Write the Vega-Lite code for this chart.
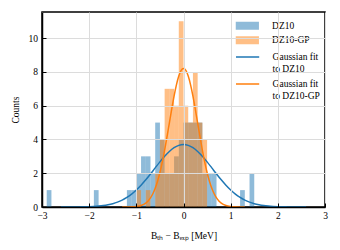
{
  "$schema": "https://vega.github.io/schema/vega-lite/v6.json",
  "width": 283,
  "height": 195,
  "autosize": {"type": "none"},
  "padding": {"left": 42, "top": 12, "right": 15, "bottom": 43},
  "background": "white",
  "config": {
    "font": "Liberation Serif",
    "view": {"stroke": "black", "strokeWidth": 1.5},
    "axis": {
      "labelFont": "Liberation Serif",
      "titleFont": "Liberation Serif",
      "labelFontSize": 9.5,
      "titleFontSize": 9.5,
      "titleFontWeight": "normal",
      "labelColor": "black",
      "titleColor": "black",
      "domainColor": "black",
      "domainWidth": 1.5,
      "tickColor": "black",
      "tickSize": -4,
      "tickWidth": 1,
      "gridColor": "#dcdcdc",
      "gridWidth": 1,
      "labelFlush": false
    },
    "legend": {
      "labelFont": "Liberation Serif",
      "labelFontSize": 9.5,
      "labelColor": "black",
      "padding": 0
    }
  },
  "datasets": {
    "hist": [
      {"series": "DZ10", "x": -2.9, "x2": -2.8, "y": 1},
      {"series": "DZ10", "x": -1.9, "x2": -1.8, "y": 1},
      {"series": "DZ10", "x": -1.2, "x2": -1.1, "y": 1},
      {"series": "DZ10", "x": -1.1, "x2": -1.0, "y": 1},
      {"series": "DZ10", "x": -1.0, "x2": -0.9, "y": 2},
      {"series": "DZ10", "x": -0.9, "x2": -0.8, "y": 3},
      {"series": "DZ10", "x": -0.8, "x2": -0.7, "y": 3},
      {"series": "DZ10", "x": -0.7, "x2": -0.6, "y": 2},
      {"series": "DZ10", "x": -0.6, "x2": -0.5, "y": 5},
      {"series": "DZ10", "x": -0.5, "x2": -0.4, "y": 4},
      {"series": "DZ10", "x": -0.4, "x2": -0.3, "y": 2},
      {"series": "DZ10", "x": -0.3, "x2": -0.2, "y": 2},
      {"series": "DZ10", "x": -0.2, "x2": -0.1, "y": 3},
      {"series": "DZ10", "x": -0.1, "x2": 0.0, "y": 4},
      {"series": "DZ10", "x": 0.0, "x2": 0.1, "y": 5},
      {"series": "DZ10", "x": 0.1, "x2": 0.2, "y": 5},
      {"series": "DZ10", "x": 0.2, "x2": 0.3, "y": 5},
      {"series": "DZ10", "x": 0.3, "x2": 0.4, "y": 5},
      {"series": "DZ10", "x": 0.4, "x2": 0.5, "y": 2},
      {"series": "DZ10", "x": 0.5, "x2": 0.6, "y": 2},
      {"series": "DZ10", "x": 0.6, "x2": 0.7, "y": 2},
      {"series": "DZ10", "x": 1.2, "x2": 1.3, "y": 1},
      {"series": "DZ10", "x": 1.4, "x2": 1.5, "y": 2},
      {"series": "DZ10-GP", "x": -1.0, "x2": -0.9, "y": 1},
      {"series": "DZ10-GP", "x": -0.8, "x2": -0.7, "y": 1},
      {"series": "DZ10-GP", "x": -0.6, "x2": -0.5, "y": 2},
      {"series": "DZ10-GP", "x": -0.5, "x2": -0.4, "y": 4},
      {"series": "DZ10-GP", "x": -0.4, "x2": -0.3, "y": 7},
      {"series": "DZ10-GP", "x": -0.3, "x2": -0.2, "y": 7},
      {"series": "DZ10-GP", "x": -0.2, "x2": -0.1, "y": 6},
      {"series": "DZ10-GP", "x": -0.1, "x2": 0.0, "y": 11},
      {"series": "DZ10-GP", "x": 0.0, "x2": 0.1, "y": 6},
      {"series": "DZ10-GP", "x": 0.1, "x2": 0.2, "y": 5},
      {"series": "DZ10-GP", "x": 0.2, "x2": 0.3, "y": 8},
      {"series": "DZ10-GP", "x": 0.3, "x2": 0.4, "y": 5},
      {"series": "DZ10-GP", "x": 0.4, "x2": 0.5, "y": 4}
    ],
    "fits": [
      {"fit": "Gaussian fit\nto DZ10", "x": -2.6, "y": 0.0003},
      {"fit": "Gaussian fit\nto DZ10", "x": -2.4, "y": 0.0016},
      {"fit": "Gaussian fit\nto DZ10", "x": -2.2, "y": 0.0068},
      {"fit": "Gaussian fit\nto DZ10", "x": -2.0, "y": 0.020},
      {"fit": "Gaussian fit\nto DZ10", "x": -1.9, "y": 0.034},
      {"fit": "Gaussian fit\nto DZ10", "x": -1.8, "y": 0.055},
      {"fit": "Gaussian fit\nto DZ10", "x": -1.7, "y": 0.086},
      {"fit": "Gaussian fit\nto DZ10", "x": -1.6, "y": 0.133},
      {"fit": "Gaussian fit\nto DZ10", "x": -1.5, "y": 0.198},
      {"fit": "Gaussian fit\nto DZ10", "x": -1.4, "y": 0.289},
      {"fit": "Gaussian fit\nto DZ10", "x": -1.3, "y": 0.411},
      {"fit": "Gaussian fit\nto DZ10", "x": -1.2, "y": 0.569},
      {"fit": "Gaussian fit\nto DZ10", "x": -1.1, "y": 0.767},
      {"fit": "Gaussian fit\nto DZ10", "x": -1.0, "y": 1.008},
      {"fit": "Gaussian fit\nto DZ10", "x": -0.9, "y": 1.290},
      {"fit": "Gaussian fit\nto DZ10", "x": -0.8, "y": 1.610},
      {"fit": "Gaussian fit\nto DZ10", "x": -0.7, "y": 1.956},
      {"fit": "Gaussian fit\nto DZ10", "x": -0.6, "y": 2.317},
      {"fit": "Gaussian fit\nto DZ10", "x": -0.5, "y": 2.673},
      {"fit": "Gaussian fit\nto DZ10", "x": -0.4, "y": 3.005},
      {"fit": "Gaussian fit\nto DZ10", "x": -0.3, "y": 3.291},
      {"fit": "Gaussian fit\nto DZ10", "x": -0.2, "y": 3.512},
      {"fit": "Gaussian fit\nto DZ10", "x": -0.1, "y": 3.652},
      {"fit": "Gaussian fit\nto DZ10", "x": 0.0, "y": 3.700},
      {"fit": "Gaussian fit\nto DZ10", "x": 0.1, "y": 3.652},
      {"fit": "Gaussian fit\nto DZ10", "x": 0.2, "y": 3.512},
      {"fit": "Gaussian fit\nto DZ10", "x": 0.3, "y": 3.291},
      {"fit": "Gaussian fit\nto DZ10", "x": 0.4, "y": 3.005},
      {"fit": "Gaussian fit\nto DZ10", "x": 0.5, "y": 2.673},
      {"fit": "Gaussian fit\nto DZ10", "x": 0.6, "y": 2.317},
      {"fit": "Gaussian fit\nto DZ10", "x": 0.7, "y": 1.956},
      {"fit": "Gaussian fit\nto DZ10", "x": 0.8, "y": 1.610},
      {"fit": "Gaussian fit\nto DZ10", "x": 0.9, "y": 1.290},
      {"fit": "Gaussian fit\nto DZ10", "x": 1.0, "y": 1.008},
      {"fit": "Gaussian fit\nto DZ10", "x": 1.1, "y": 0.767},
      {"fit": "Gaussian fit\nto DZ10", "x": 1.2, "y": 0.569},
      {"fit": "Gaussian fit\nto DZ10", "x": 1.3, "y": 0.411},
      {"fit": "Gaussian fit\nto DZ10", "x": 1.4, "y": 0.289},
      {"fit": "Gaussian fit\nto DZ10", "x": 1.5, "y": 0.198},
      {"fit": "Gaussian fit\nto DZ10", "x": 1.6, "y": 0.133},
      {"fit": "Gaussian fit\nto DZ10", "x": 1.7, "y": 0.086},
      {"fit": "Gaussian fit\nto DZ10", "x": 1.8, "y": 0.055},
      {"fit": "Gaussian fit\nto DZ10", "x": 1.9, "y": 0.034},
      {"fit": "Gaussian fit\nto DZ10", "x": 2.0, "y": 0.020},
      {"fit": "Gaussian fit\nto DZ10", "x": 2.2, "y": 0.0068},
      {"fit": "Gaussian fit\nto DZ10", "x": 2.4, "y": 0.0016},
      {"fit": "Gaussian fit\nto DZ10", "x": 2.6, "y": 0.0003},
      {"fit": "Gaussian fit\nto DZ10-GP", "x": -1.3, "y": 0.0007},
      {"fit": "Gaussian fit\nto DZ10-GP", "x": -1.2, "y": 0.0027},
      {"fit": "Gaussian fit\nto DZ10-GP", "x": -1.1, "y": 0.0099},
      {"fit": "Gaussian fit\nto DZ10-GP", "x": -1.0, "y": 0.032},
      {"fit": "Gaussian fit\nto DZ10-GP", "x": -0.9, "y": 0.091},
      {"fit": "Gaussian fit\nto DZ10-GP", "x": -0.8, "y": 0.234},
      {"fit": "Gaussian fit\nto DZ10-GP", "x": -0.75, "y": 0.360},
      {"fit": "Gaussian fit\nto DZ10-GP", "x": -0.7, "y": 0.539},
      {"fit": "Gaussian fit\nto DZ10-GP", "x": -0.65, "y": 0.784},
      {"fit": "Gaussian fit\nto DZ10-GP", "x": -0.6, "y": 1.110},
      {"fit": "Gaussian fit\nto DZ10-GP", "x": -0.55, "y": 1.528},
      {"fit": "Gaussian fit\nto DZ10-GP", "x": -0.5, "y": 2.045},
      {"fit": "Gaussian fit\nto DZ10-GP", "x": -0.45, "y": 2.662},
      {"fit": "Gaussian fit\nto DZ10-GP", "x": -0.4, "y": 3.371},
      {"fit": "Gaussian fit\nto DZ10-GP", "x": -0.35, "y": 4.152},
      {"fit": "Gaussian fit\nto DZ10-GP", "x": -0.3, "y": 4.973},
      {"fit": "Gaussian fit\nto DZ10-GP", "x": -0.25, "y": 5.794},
      {"fit": "Gaussian fit\nto DZ10-GP", "x": -0.2, "y": 6.566},
      {"fit": "Gaussian fit\nto DZ10-GP", "x": -0.15, "y": 7.236},
      {"fit": "Gaussian fit\nto DZ10-GP", "x": -0.1, "y": 7.757},
      {"fit": "Gaussian fit\nto DZ10-GP", "x": -0.05, "y": 8.087},
      {"fit": "Gaussian fit\nto DZ10-GP", "x": 0.0, "y": 8.200},
      {"fit": "Gaussian fit\nto DZ10-GP", "x": 0.05, "y": 8.087},
      {"fit": "Gaussian fit\nto DZ10-GP", "x": 0.1, "y": 7.757},
      {"fit": "Gaussian fit\nto DZ10-GP", "x": 0.15, "y": 7.236},
      {"fit": "Gaussian fit\nto DZ10-GP", "x": 0.2, "y": 6.566},
      {"fit": "Gaussian fit\nto DZ10-GP", "x": 0.25, "y": 5.794},
      {"fit": "Gaussian fit\nto DZ10-GP", "x": 0.3, "y": 4.973},
      {"fit": "Gaussian fit\nto DZ10-GP", "x": 0.35, "y": 4.152},
      {"fit": "Gaussian fit\nto DZ10-GP", "x": 0.4, "y": 3.371},
      {"fit": "Gaussian fit\nto DZ10-GP", "x": 0.45, "y": 2.662},
      {"fit": "Gaussian fit\nto DZ10-GP", "x": 0.5, "y": 2.045},
      {"fit": "Gaussian fit\nto DZ10-GP", "x": 0.55, "y": 1.528},
      {"fit": "Gaussian fit\nto DZ10-GP", "x": 0.6, "y": 1.110},
      {"fit": "Gaussian fit\nto DZ10-GP", "x": 0.65, "y": 0.784},
      {"fit": "Gaussian fit\nto DZ10-GP", "x": 0.7, "y": 0.539},
      {"fit": "Gaussian fit\nto DZ10-GP", "x": 0.75, "y": 0.360},
      {"fit": "Gaussian fit\nto DZ10-GP", "x": 0.8, "y": 0.234},
      {"fit": "Gaussian fit\nto DZ10-GP", "x": 0.9, "y": 0.091},
      {"fit": "Gaussian fit\nto DZ10-GP", "x": 1.0, "y": 0.032},
      {"fit": "Gaussian fit\nto DZ10-GP", "x": 1.1, "y": 0.0099},
      {"fit": "Gaussian fit\nto DZ10-GP", "x": 1.2, "y": 0.0027},
      {"fit": "Gaussian fit\nto DZ10-GP", "x": 1.3, "y": 0.0007}
    ]
  },
  "encoding": {
    "x": {
      "field": "x",
      "type": "quantitative",
      "scale": {"domain": [-3, 3], "nice": false, "zero": false},
      "axis": {
        "title": "Bₜₕ − Bₑₓₚ [MeV]",
        "values": [-3, -2, -1, 0, 1, 2, 3],
        "grid": true,
        "labelPadding": 7.5,
        "titlePadding": 10,
        "zindex": 1
      }
    },
    "y": {
      "field": "y",
      "type": "quantitative",
      "scale": {"domain": [0, 11.55], "nice": false},
      "axis": {
        "title": "Counts",
        "values": [0, 2, 4, 6, 8, 10],
        "grid": true,
        "labelPadding": 8.5,
        "titlePadding": 8,
        "zindex": 1
      }
    }
  },
  "layer": [
    {
      "data": {"name": "hist"},
      "mark": {"type": "rect", "opacity": 0.5, "strokeWidth": 0},
      "encoding": {
        "x2": {"field": "x2"},
        "y2": {"datum": 0},
        "fill": {
          "field": "series",
          "type": "nominal",
          "scale": {"domain": ["DZ10", "DZ10-GP"], "range": ["#1f77b4", "#ff7f0e"]},
          "legend": {
            "title": null,
            "orient": "none",
            "legendX": 193,
            "legendY": 9,
            "symbolType": "M-2.9,-1H2.9V1H-2.9Z",
            "symbolSize": 64,
            "symbolOpacity": 0.5,
            "symbolStrokeWidth": 0,
            "symbolOffset": 7.6,
            "labelOffset": 20,
            "rowPadding": 3.5
          }
        }
      }
    },
    {
      "data": {"name": "fits"},
      "mark": {"type": "line", "strokeWidth": 1.5, "interpolate": "monotone", "clip": true},
      "encoding": {
        "stroke": {
          "field": "fit",
          "type": "nominal",
          "scale": {"domain": ["Gaussian fit\nto DZ10", "Gaussian fit\nto DZ10-GP"], "range": ["#1f77b4", "#ff7f0e"]},
          "legend": {
            "title": null,
            "orient": "none",
            "legendX": 193,
            "legendY": 40,
            "symbolType": "M-2.9,0H2.9",
            "symbolSize": 64,
            "symbolStrokeWidth": 1.5,
            "symbolFillColor": "transparent",
            "symbolOffset": 7.6,
            "labelOffset": 20,
            "rowPadding": 6,
            "labelExpr": "split(datum.label, '\\n')",
            "encode": {"labels": {"update": {"lineHeight": {"value": 11.5}}}}
          }
        }
      }
    }
  ]
}
